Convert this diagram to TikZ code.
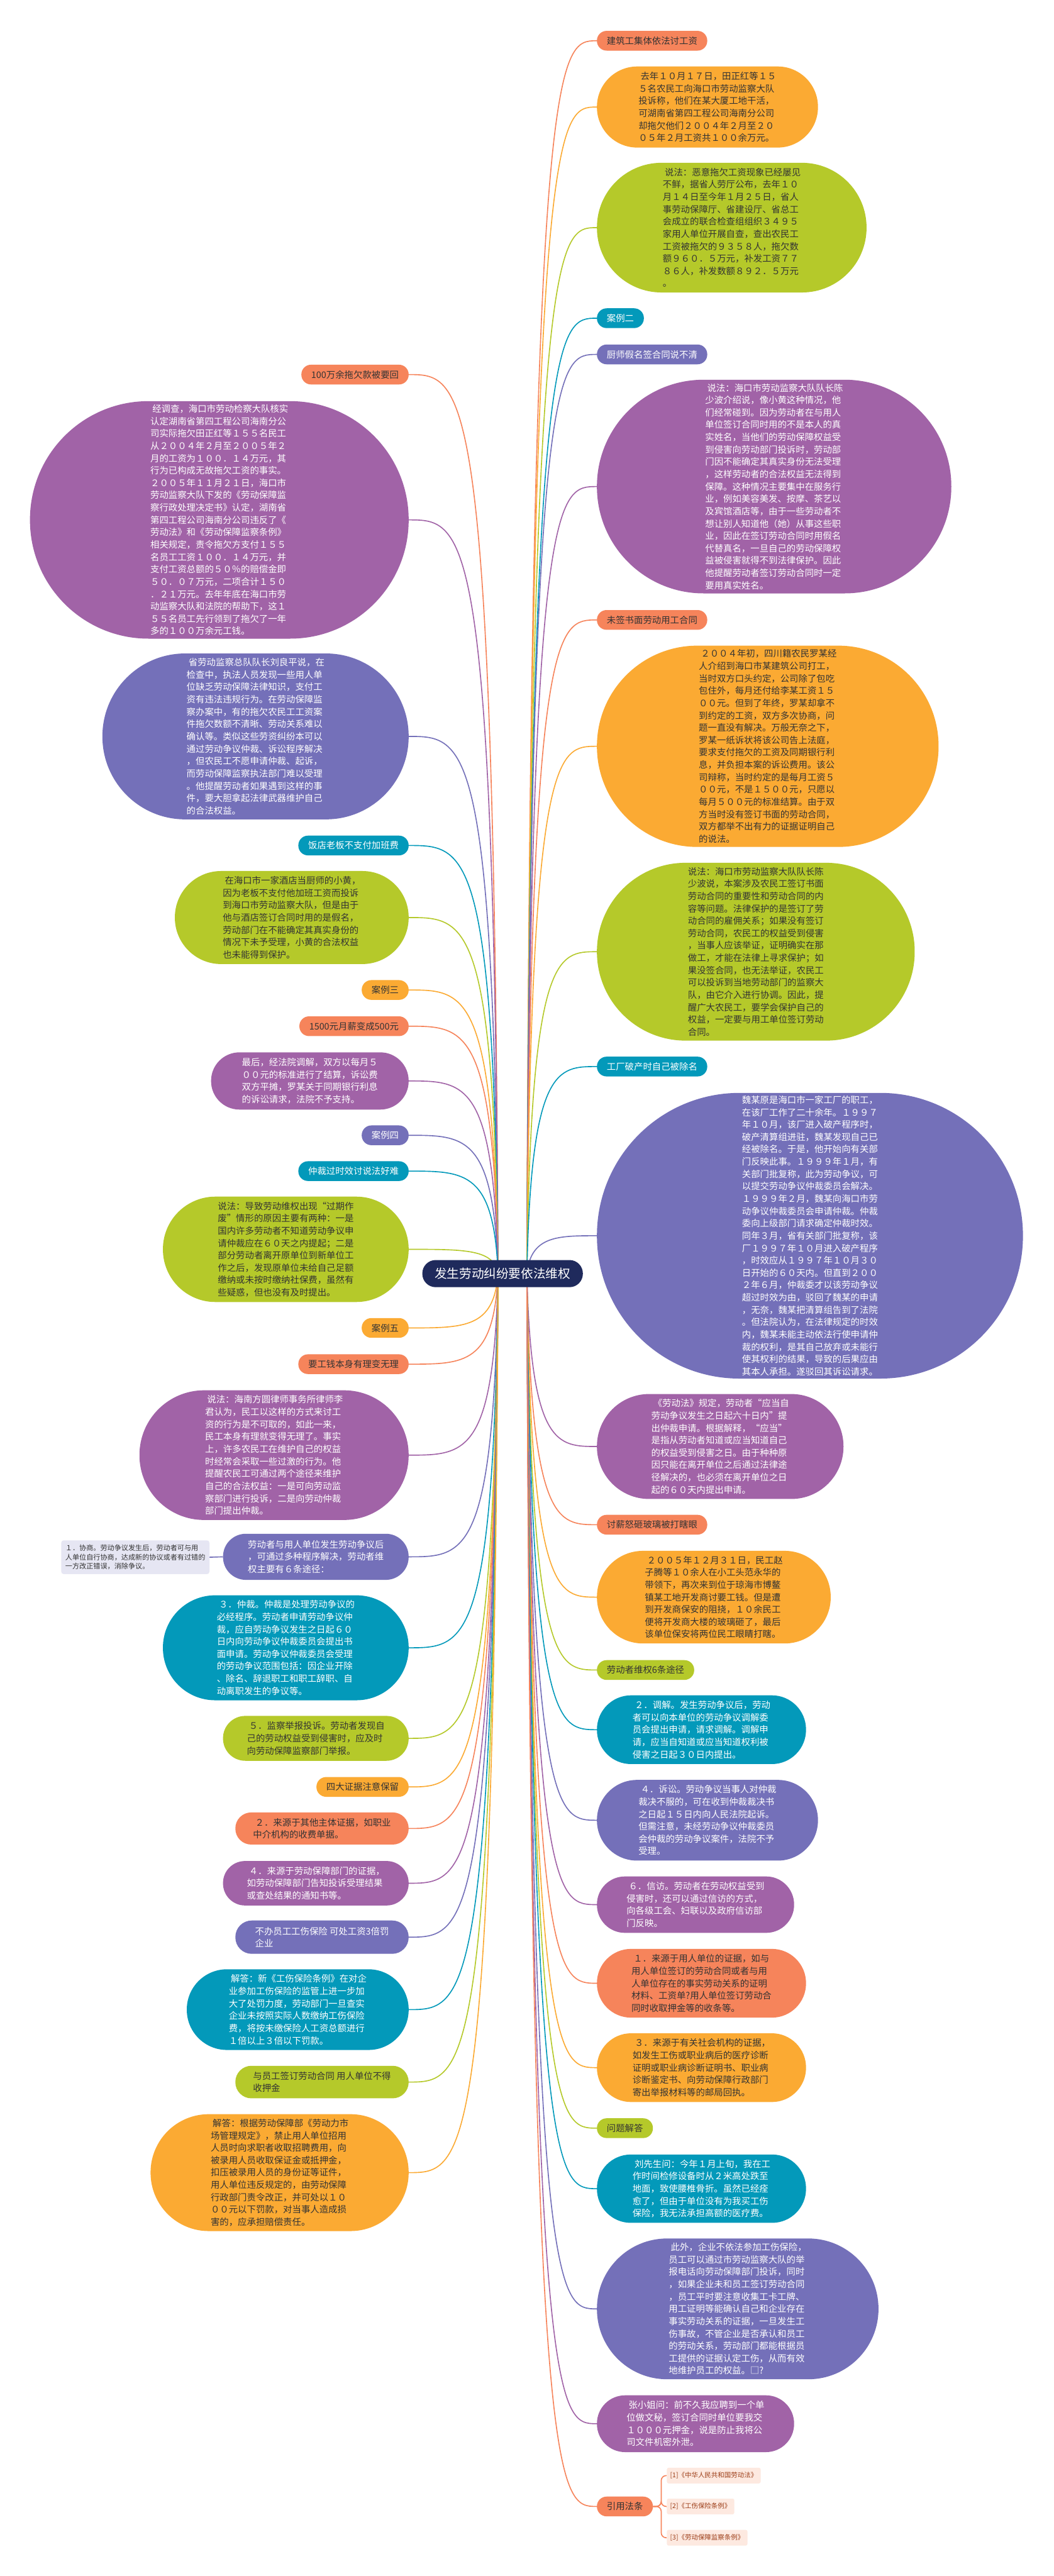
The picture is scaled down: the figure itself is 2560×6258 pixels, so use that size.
\documentclass[tikz,border=0pt]{standalone}
\usepackage{fontspec}
\setmainfont{Noto Sans CJK SC}
\usepackage{tikz}
\usetikzlibrary{backgrounds}
\definecolor{ccor}{HTML}{F6845B}
\definecolor{corg}{HTML}{FBAA33}
\definecolor{cgrn}{HTML}{B5C92A}
\definecolor{ctea}{HTML}{0399BA}
\definecolor{cind}{HTML}{7470B9}
\definecolor{cpur}{HTML}{A163A7}
\definecolor{cnav}{HTML}{1F2A5C}
\definecolor{ctxt}{HTML}{333333}
\definecolor{cref}{HTML}{FDE9E0}
\definecolor{ctref}{HTML}{9C3D17}
\definecolor{clav}{HTML}{E6E6F3}
\tikzset{
  perus/.style={inner sep=0pt, align=left, font=\fontsize{22}{30}\selectfont},
  tag/.style={perus, rounded corners=23.5pt, minimum height=48pt, inner xsep=24pt},
  bub/.style 2 args={perus, minimum width=#1, minimum height=#2, rounded corners=(#2-1)/2},
  cor/.style={fill=ccor, text=ctxt},
  org/.style={fill=corg, text=ctxt},
  grn/.style={fill=cgrn, text=ctxt},
  tea/.style={fill=ctea, text=white},
  ind/.style={fill=cind, text=white},
  pur/.style={fill=cpur, text=white},
  keski/.style={fill=cnav, text=white, font=\fontsize{30}{36}\selectfont, inner xsep=30pt, inner ysep=0pt, minimum height=66pt, rounded corners=32.5pt},
  viite/.style={fill=cref, text=ctref, font=\fontsize{16}{20}\selectfont, inner xsep=8pt, inner ysep=0pt, minimum height=38pt, rounded corners=4pt},
  neuvo/.style={fill=clav, text=ctxt, align=left, font=\fontsize{17}{22.4}\selectfont, inner xsep=10pt, inner ysep=0pt, minimum height=82pt, rounded corners=6pt},
  viiva/.style={line width=2.5pt}
}
\begin{document}
\begin{tikzpicture}[line cap=round,line join=round,x=1pt,y=-1pt]
\useasboundingbox (0,0) rectangle (2560,6258);
\begin{pgfonlayer}{background}
\fill[white] (0,0) rectangle (2560,6258);
\end{pgfonlayer}

\node[keski] (ktr) at (1221,3094) {发生劳动纠纷要依法维权};
\coordinate (rs) at ([xshift=59pt]ktr.center);
\coordinate (rc1) at ([xshift=69pt]ktr.center);
\coordinate (rc2) at ([xshift=134pt]ktr.center);
\coordinate (ls) at ([xshift=-11pt]ktr.center);
\coordinate (lc1) at ([xshift=-21pt]ktr.center);
\coordinate (lc2) at ([xshift=-91pt]ktr.center);

%oikea puoli
\node[tag, cor, anchor=west] (r1) at (1450,99) {建筑工集体依法讨工资};
\node[bub={537}{197}, org, anchor=west] (r2) at (1450,260) {~去年１０月１７日，田正红等１５\\５名农民工向海口市劳动监察大队\\投诉称，他们在某大厦工地干活，\\可湖南省第四工程公司海南分公司\\却拖欠他们２００４年２月至２０\\０５年２月工资共１００余万元。};
\node[bub={655}{315}, grn, anchor=west] (r3) at (1450,553) {~说法：恶意拖欠工资现象已经屡见\\不鲜，据省人劳厅公布，去年１０\\月１４日至今年１月２５日，省人\\事劳动保障厅、省建设厅、省总工\\会成立的联合检查组组织３４９５\\家用人单位开展自查，查出农民工\\工资被拖欠的９３５８人，拖欠数\\额９６０．５万元，补发工资７７\\８６人，补发数额８９２．５万元\\。};
\node[tag, tea, anchor=west] (r4) at (1450,773) {案例二};
\node[tag, ind, anchor=west] (r5) at (1450,861) {厨师假名签合同说不清};
\node[bub={861}{519}, pur, anchor=west] (r6) at (1450,1182) {~说法：海口市劳动监察大队队长陈\\少波介绍说，像小黄这种情况，他\\们经常碰到。因为劳动者在与用人\\单位签订合同时用的不是本人的真\\实姓名，当他们的劳动保障权益受\\到侵害向劳动部门投诉时，劳动部\\门因不能确定其真实身份无法受理\\，这样劳动者的合法权益无法得到\\保障。这种情况主要集中在服务行\\业，例如美容美发、按摩、茶艺以\\及宾馆酒店等，由于一些劳动者不\\想让别人知道他（她）从事这些职\\业，因此在签订劳动合同时用假名\\代替真名，一旦自己的劳动保障权\\益被侵害就得不到法律保护。因此\\他提醒劳动者签订劳动合同时一定\\要用真实姓名。};
\node[tag, cor, anchor=west] (r7) at (1450,1506) {未签书面劳动用工合同};
\node[bub={830}{489}, org, anchor=west] (r8) at (1450,1813) {~２００４年初，四川籍农民罗某经\\人介绍到海口市某建筑公司打工，\\当时双方口头约定，公司除了包吃\\包住外，每月还付给李某工资１５\\００元。但到了年终，罗某却拿不\\到约定的工资，双方多次协商，问\\题一直没有解决。万般无奈之下，\\罗某一纸诉状将该公司告上法庭，\\要求支付拖欠的工资及同期银行利\\息，并负担本案的诉讼费用。该公\\司辩称，当时约定的是每月工资５\\００元，不是１５００元，只愿以\\每月５００元的标准结算。由于双\\方当时没有签订书面的劳动合同，\\双方都举不出有力的证据证明自己\\的说法。};
\node[bub={772}{432}, grn, anchor=west] (r9) at (1450,2312) {说法：海口市劳动监察大队队长陈\\少波说，本案涉及农民工签订书面\\劳动合同的重要性和劳动合同的内\\容等问题。法律保护的是签订了劳\\动合同的雇佣关系；如果没有签订\\劳动合同，农民工的权益受到侵害\\，当事人应该举证，证明确实在那\\做工，才能在法律上寻求保护；如\\果没签合同，也无法举证，农民工\\可以投诉到当地劳动部门的监察大\\队，由它介入进行协调。因此，提\\醒广大农民工，要学会保护自己的\\权益，一定要与用工单位签订劳动\\合同。};
\node[tag, tea, anchor=west] (r10) at (1450,2591) {工厂破产时自己被除名};
\node[bub={1035}{694}, ind, anchor=west] (r11) at (1450,3002) {魏某原是海口市一家工厂的职工，\\在该厂工作了二十余年。１９９７\\年１０月，该厂进入破产程序时，\\破产清算组进驻，魏某发现自己已\\经被除名。于是，他开始向有关部\\门反映此事。１９９９年１月，有\\关部门批复称，此为劳动争议，可\\以提交劳动争议仲裁委员会解决。\\１９９９年２月，魏某向海口市劳\\动争议仲裁委员会申请仲裁。仲裁\\委向上级部门请求确定仲裁时效。\\同年３月，省有关部门批复称，该\\厂１９９７年１０月进入破产程序\\，时效应从１９９７年１０月３０\\日开始的６０天内。但直到２００\\２年６月，仲裁委才以该劳动争议\\超过时效为由，驳回了魏某的申请\\，无奈，魏某把清算组告到了法院\\。但法院认为，在法律规定的时效\\内，魏某未能主动依法行使申请仲\\裁的权利，是其自己放弃或未能行\\使其权利的结果，导致的后果应由\\其本人承担。遂驳回其诉讼请求。};
\node[bub={599}{255}, pur, anchor=west] (r12) at (1450,3514) {~《劳动法》规定，劳动者“应当自\\劳动争议发生之日起六十日内”提\\出仲裁申请。根据解释，“应当”\\是指从劳动者知道或应当知道自己\\的权益受到侵害之日。由于种种原\\因只能在离开单位之后通过法律途\\径解决的，也必须在离开单位之日\\起的６０天内提出申请。};
\node[tag, cor, anchor=west] (r13) at (1450,3704) {讨薪怒砸玻璃被打瞎眼};
\node[bub={568}{225}, org, anchor=west] (r14) at (1450,3880) {~２００５年１２月３１日，民工赵\\子腾等１０余人在小工头范永华的\\带领下，再次来到位于琼海市博鳌\\镇某工地开发商讨要工钱。但是遭\\到开发商保安的阻挠，１０余民工\\便将开发商大楼的玻璃砸了，最后\\该单位保安将两位民工眼睛打瞎。};
\node[tag, grn, anchor=west] (r15) at (1450,4057) {劳动者维权6条途径};
\node[bub={508}{167}, tea, anchor=west] (r16) at (1450,4202) {~２．调解。发生劳动争议后，劳动\\者可以向本单位的劳动争议调解委\\员会提出申请，请求调解。调解申\\请，应当自知道或应当知道权利被\\侵害之日起３０日内提出。};
\node[bub={537}{196}, ind, anchor=west] (r17) at (1450,4422) {~４．诉讼。劳动争议当事人对仲裁\\裁决不服的，可在收到仲裁裁决书\\之日起１５日内向人民法院起诉。\\但需注意，未经劳动争议仲裁委员\\会仲裁的劳动争议案件，法院不予\\受理。};
\node[bub={479}{137}, pur, anchor=west] (r18) at (1450,4627) {~６．信访。劳动者在劳动权益受到\\侵害时，还可以通过信访的方式，\\向各级工会、妇联以及政府信访部\\门反映。};
\node[bub={508}{167}, cor, anchor=west] (r19) at (1450,4818) {~１．来源于用人单位的证据，如与\\用人单位签订的劳动合同或者与用\\人单位存在的事实劳动关系的证明\\材料、工资单?用人单位签订劳动合\\同时收取押金等的收条等。};
\node[bub={508}{167}, org, anchor=west] (r20) at (1450,5023) {~３．来源于有关社会机构的证据，\\如发生工伤或职业病后的医疗诊断\\证明或职业病诊断证明书、职业病\\诊断鉴定书、向劳动保障行政部门\\寄出举报材料等的邮局回执。};
\node[tag, grn, anchor=west] (r21) at (1450,5170) {问题解答};
\node[bub={508}{166}, tea, anchor=west] (r22) at (1450,5317) {~刘先生问：今年１月上旬，我在工\\作时间检修设备时从２米高处跌至\\地面，致使腰椎骨折。虽然已经痊\\愈了，但由于单位没有为我买工伤\\保险，我无法承担高额的医疗费。};
\node[bub={684}{342}, ind, anchor=west] (r23) at (1450,5609) {~此外，企业不依法参加工伤保险，\\员工可以通过市劳动监察大队的举\\报电话向劳动保障部门投诉，同时\\，如果企业未和员工签订劳动合同\\，员工平时要注意收集工卡工牌、\\用工证明等能确认自己和企业存在\\事实劳动关系的证据，一旦发生工\\伤事故，不管企业是否承认和员工\\的劳动关系，劳动部门都能根据员\\工提供的证据认定工伤，从而有效\\地维护员工的权益。□?};
\node[bub={479}{138}, pur, anchor=west] (r24) at (1450,5888) {~张小姐问：前不久我应聘到一个单\\位做文秘，签订合同时单位要我交\\１０００元押金，说是防止我将公\\司文件机密外泄。};
\node[tag, cor, anchor=west] (r25) at (1450,6089) {引用法条};
\node[viite, anchor=west] (f1) at (1620,6014) {[1]《中华人民共和国劳动法》};
\node[viite, anchor=west] (f2) at (1620,6089) {[2]《工伤保险条例》};
\node[viite, anchor=west] (f3) at (1620,6165) {[3]《劳动保障监察条例》};
\coordinate (fk) at ([xshift=20pt]r25.east);

%vasen puoli
\node[tag, cor, anchor=east] (l1) at (993,910) {100万余拖欠款被要回};
\node[bub={920}{577}, pur, anchor=east] (l2) at (993,1263) {~经调查，海口市劳动检察大队核实\\认定湖南省第四工程公司海南分公\\司实际拖欠田正红等１５５名民工\\从２００４年２月至２００５年２\\月的工资为１００．１４万元，其\\行为已构成无故拖欠工资的事实。\\２００５年１１月２１日，海口市\\劳动监察大队下发的《劳动保障监\\察行政处理决定书》认定，湖南省\\第四工程公司海南分公司违反了《\\劳动法》和《劳动保障监察条例》\\相关规定，责令拖欠方支付１５５\\名员工工资１００．１４万元，并\\支付工资总额的５０％的赔偿金即\\５０．０７万元，二项合计１５０\\．２１万元。去年年底在海口市劳\\动监察大队和法院的帮助下，这１\\５５名员工先行领到了拖欠了一年\\多的１００万余元工钱。};
\node[bub={744}{403}, ind, anchor=east] (l3) at (993,1789) {~省劳动监察总队队长刘良平说，在\\检查中，执法人员发现一些用人单\\位缺乏劳动保障法律知识，支付工\\资有违法违规行为。在劳动保障监\\察办案中，有的拖欠农民工工资案\\件拖欠数额不清晰、劳动关系难以\\确认等。类似这些劳资纠纷本可以\\通过劳动争议仲裁、诉讼程序解决\\，但农民工不愿申请仲裁、起诉，\\而劳动保障监察执法部门难以受理\\。他提醒劳动者如果遇到这样的事\\件，要大胆拿起法律武器维护自己\\的合法权益。};
\node[tag, tea, anchor=east] (l4) at (993,2054) {饭店老板不支付加班费};
\node[bub={568}{226}, grn, anchor=east] (l5) at (993,2229) {~在海口市一家酒店当厨师的小黄，\\因为老板不支付他加班工资而投诉\\到海口市劳动监察大队，但是由于\\他与酒店签订合同时用的是假名，\\劳动部门在不能确定其真实身份的\\情况下未予受理，小黄的合法权益\\也未能得到保护。};
\node[tag, org, anchor=east] (l6) at (993,2405) {案例三};
\node[tag, cor, anchor=east] (l7) at (993,2493) {1500元月薪变成500元};
\node[bub={480}{139}, pur, anchor=east] (l8) at (993,2626) {最后，经法院调解，双方以每月５\\００元的标准进行了结算，诉讼费\\双方平摊，罗某关于同期银行利息\\的诉讼请求，法院不予支持。};
\node[tag, ind, anchor=east] (l9) at (993,2758) {案例四};
\node[tag, tea, anchor=east] (l10) at (993,2845) {仲裁过时效讨说法好难};
\node[bub={597}{256}, grn, anchor=east] (l11) at (993,3035) {说法：导致劳动维权出现“过期作\\废”情形的原因主要有两种：一是\\国内许多劳动者不知道劳动争议申\\请仲裁应在６０天之内提起；二是\\部分劳动者离开原单位到新单位工\\作之后，发现原单位未给自己足额\\缴纳或未按时缴纳社保费，虽然有\\些疑惑，但也没有及时提出。};
\node[tag, org, anchor=east] (l12) at (993,3226) {案例五};
\node[tag, cor, anchor=east] (l13) at (993,3314) {要工钱本身有理变无理};
\node[bub={654}{315}, pur, anchor=east] (l14) at (993,3535) {~说法：海南方圆律师事务所律师李\\君认为，民工以这样的方式来讨工\\资的行为是不可取的，如此一来，\\民工本身有理就变得无理了。事实\\上，许多农民工在维护自己的权益\\时经常会采取一些过激的行为。他\\提醒农民工可通过两个途径来维护\\自己的合法权益：一是可向劳动监\\察部门进行投诉，二是向劳动仲裁\\部门提出仲裁。};
\node[bub={451}{112}, ind, anchor=east] (l15) at (993,3782) {劳动者与用人单位发生劳动争议后\\，可通过多种程序解决，劳动者维\\权主要有６条途径：};
\node[neuvo, anchor=east] (l15a) at (509,3783) {１．协商。劳动争议发生后，劳动者可与用\\人单位自行协商，达成新的协议或者有过错的\\一方改正错误，消除争议。};
\node[bub={597}{255}, tea, anchor=east] (l16) at (993,4003) {~３．仲裁。仲裁是处理劳动争议的\\必经程序。劳动者申请劳动争议仲\\裁，应自劳动争议发生之日起６０\\日内向劳动争议仲裁委员会提出书\\面申请。劳动争议仲裁委员会受理\\的劳动争议范围包括：因企业开除\\、除名、辞退职工和职工辞职、自\\动离职发生的争议等。};
\node[bub={451}{109}, grn, anchor=east] (l17) at (993,4223) {~５．监察举报投诉。劳动者发现自\\己的劳动权益受到侵害时，应及时\\向劳动保障监察部门举报。};
\node[tag, org, anchor=east] (l18) at (993,4341) {四大证据注意保留};
\node[bub={421}{78}, cor, anchor=east] (l19) at (993,4442) {~２．来源于其他主体证据，如职业\\中介机构的收费单据。};
\node[bub={451}{108}, pur, anchor=east] (l20) at (993,4575) {~４．来源于劳动保障部门的证据，\\如劳动保障部门告知投诉受理结果\\或查处结果的通知书等。};
\node[bub={421}{81}, ind, anchor=east] (l21) at (993,4706) {不办员工工伤保险 可处工资3倍罚\\企业};
\node[bub={539}{196}, tea, anchor=east] (l22) at (993,4882) {~解答：新《工伤保险条例》在对企\\业参加工伤保险的监管上进一步加\\大了处罚力度，劳动部门一旦查实\\企业未按照实际人数缴纳工伤保险\\费，将按未缴保险人工资总额进行\\１倍以上３倍以下罚款。};
\node[bub={421}{79}, grn, anchor=east] (l23) at (993,5058) {与员工签订劳动合同 用人单位不得\\收押金};
\node[bub={627}{284}, org, anchor=east] (l24) at (993,5278) {~解答：根据劳动保障部《劳动力市\\场管理规定》，禁止用人单位招用\\人员时向求职者收取招聘费用，向\\被录用人员收取保证金或抵押金，\\扣压被录用人员的身份证等证件，\\用人单位违反规定的，由劳动保障\\行政部门责令改正，并可处以１０\\００元以下罚款，对当事人造成损\\害的，应承担赔偿责任。};

%viivat
\begin{pgfonlayer}{background}
\foreach \nm/\cl in {r1/ccor,r2/corg,r3/cgrn,r4/ctea,r5/cind,r6/cpur,r7/ccor,r8/corg,r9/cgrn,r10/ctea,r11/cind,r12/cpur,r13/ccor,r14/corg,r15/cgrn,r16/ctea,r17/cind,r18/cpur,r19/ccor,r20/corg,r21/cgrn,r22/ctea,r23/cind,r24/cpur,r25/ccor}
{
\draw[viiva,\cl] (rs) .. controls (rc1 |- \nm.west) and (rc2 |- \nm.west) .. (\nm.west);
}
\foreach \nm/\cl in {l1/ccor,l2/cpur,l3/cind,l4/ctea,l5/cgrn,l6/corg,l7/ccor,l8/cpur,l9/cind,l10/ctea,l11/cgrn,l12/corg,l13/ccor,l14/cpur,l15/cind,l16/ctea,l17/cgrn,l18/corg,l19/ccor,l20/cpur,l21/cind,l22/ctea,l23/cgrn,l24/corg}
{
\draw[viiva,\cl] (ls) .. controls (lc1 |- \nm.east) and (lc2 |- \nm.east) .. (\nm.east);
}
\foreach \f in {f1,f2,f3}
{
\draw[viiva,ccor,rounded corners=12pt] (r25.east) -- (fk) |- (\f.west);
}
\draw[viiva,cind] (l15.west) -- (l15a.east);
\end{pgfonlayer}
\end{tikzpicture}
\end{document}
